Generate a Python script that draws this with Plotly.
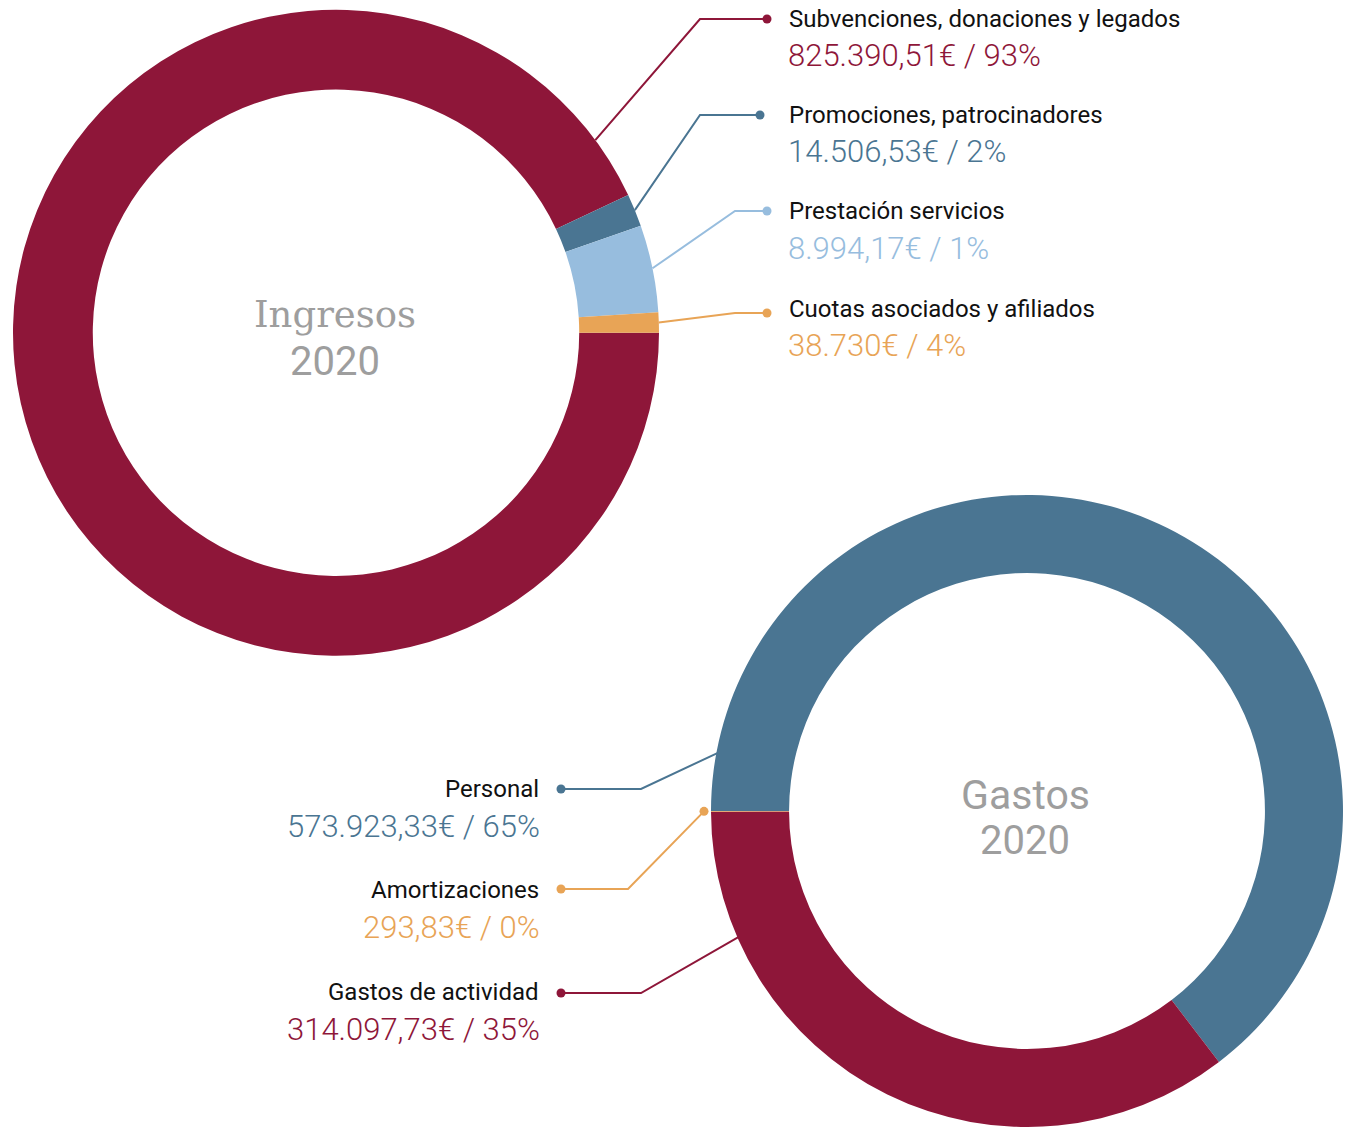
import math
import plotly.graph_objects as go

# ---------------- data ----------------
ingresos_labels = ["Subvenciones, donaciones y legados", "Promociones, patrocinadores",
                   "Prestación servicios", "Cuotas asociados y afiliados"]
ingresos_values = [825390.51, 14506.53, 8994.17, 38730.00]
ingresos_colors = ["#8E1639", "#4A7592", "#97BDDE", "#E8A456"]
# order in which the ring is drawn (clockwise from 3 o'clock) and the colour of each drawn slice
ingresos_ring_order = [0, 1, 3, 2]
ingresos_ring_colors = ["#8E1639", "#4A7592", "#97BDDE", "#E8A456"]

gastos_labels = ["Personal", "Amortizaciones", "Gastos de actividad"]
gastos_values = [573923.33, 293.83, 314097.73]
gastos_colors = ["#4A7592", "#E8A456", "#8E1639"]
gastos_ring_order = [0, 2, 1]   # clockwise from 9 o'clock

center_titles = [("Ingresos", "2020"), ("Gastos", "2020")]

# ---------------- layout constants ----------------
W, H = 1346, 1127
TOP_C, TOP_R = (336, 332.7), 323
BOT_C, BOT_R = (1027, 811), 316
HOLE = 0.753
GRAY = "#9E9E9E"
LABEL_FONT = dict(family="Roboto", size=24, color="#111111")
VALUE_DY = 37


def fmt_eur(v):
    if abs(v - round(v)) < 1e-9:
        s = f"{int(round(v)):,}".replace(",", ".")
    else:
        s = f"{v:,.2f}".replace(",", "X").replace(".", ",").replace("X", ".")
    return s + "€"


def px(x):
    return x / W


def py(y):
    return 1 - y / H


def polar(c, r, ang_deg):
    a = math.radians(ang_deg)
    return c[0] + r * math.cos(a), c[1] - r * math.sin(a)


def domain(c, r):
    cy_b = H - c[1]
    return dict(x=[max(0, (c[0] - r) / W), min(1, (c[0] + r) / W)],
                y=[max(0, (cy_b - r) / H), min(1, (cy_b + r) / H)])


fig = go.Figure()

fig.add_trace(go.Pie(
    values=[ingresos_values[i] for i in ingresos_ring_order],
    labels=[ingresos_labels[i] for i in ingresos_ring_order],
    marker=dict(colors=ingresos_ring_colors, line=dict(width=0)),
    hole=HOLE, sort=False, direction="clockwise", rotation=90,
    textinfo="none", hoverinfo="label+value", showlegend=False,
    domain=domain(TOP_C, TOP_R),
))

fig.add_trace(go.Pie(
    values=[gastos_values[i] for i in gastos_ring_order],
    labels=[gastos_labels[i] for i in gastos_ring_order],
    marker=dict(colors=[gastos_colors[i] for i in gastos_ring_order], line=dict(width=0)),
    hole=HOLE, sort=False, direction="clockwise", rotation=270,
    textinfo="none", hoverinfo="label+value", showlegend=False,
    domain=domain(BOT_C, BOT_R),
))

# slice mid angles (ccw from +x) for the top ring, by drawn position
tot_i = sum(ingresos_values)
ring_vals = [ingresos_values[i] for i in ingresos_ring_order]
pos_mid = []
acc = 0.0
for v in ring_vals:
    start = acc
    acc += v / tot_i * 360
    pos_mid.append(-((start + acc) / 2) % 360)
# each label points at the drawn slice of its own colour
mid_ang = [pos_mid[ingresos_ring_colors.index(c)] for c in ingresos_colors]
mid_ang[0] = 36.6

shapes = []
annotations = []

# top labels
top_elbow_x = [700, 700, 735, 735]
top_dot_x = [767, 760, 767, 767]
top_dot_y = [19, 115, 211, 313]
top_label_y = [19, 115, 211, 309]
for i, lab in enumerate(ingresos_labels):
    col = ingresos_colors[i]
    sx, sy = polar(TOP_C, TOP_R, mid_ang[i])
    ey = top_dot_y[i]
    path = f"M {px(sx)} {py(sy)} L {px(top_elbow_x[i])} {py(ey)} L {px(top_dot_x[i])} {py(ey)}"
    shapes.append(dict(type="path", xref="paper", yref="paper", path=path,
                       line=dict(color=col, width=2)))
    shapes.append(dict(type="circle", xref="paper", yref="paper",
                       x0=px(top_dot_x[i] - 4.5), x1=px(top_dot_x[i] + 4.5),
                       y0=py(ey + 4.5), y1=py(ey - 4.5),
                       fillcolor=col, line=dict(width=0)))
    pct = round(ingresos_values[i] / tot_i * 100)
    annotations.append(dict(x=px(787), y=py(top_label_y[i]), xref="paper", yref="paper",
                            xanchor="left", yanchor="middle", showarrow=False, text=lab,
                            font=LABEL_FONT))
    annotations.append(dict(x=px(786), y=py(top_label_y[i] + VALUE_DY), xref="paper", yref="paper",
                            xanchor="left", yanchor="middle", showarrow=False,
                            text=f"{fmt_eur(ingresos_values[i])} / {pct}%",
                            font=dict(family="Roboto", size=31, color=col, weight=300)))

# bottom labels
tot_g = sum(gastos_values)
amort_mid = 180 + (gastos_values[1] / tot_g * 360) / 2
bot_angles = [169.4, amort_mid, 203.6]
bot_radius = [BOT_R - 1, BOT_R + 7, BOT_R - 1]
bot_elbow_x = [641, 628, 641]
bot_dot_y = [789, 889, 993]
bot_label_y = [789, 890, 992]
for i, lab in enumerate(gastos_labels):
    col = gastos_colors[i]
    sx, sy = polar(BOT_C, bot_radius[i], bot_angles[i])
    path = f"M {px(sx)} {py(sy)} L {px(bot_elbow_x[i])} {py(bot_dot_y[i])} L {px(561)} {py(bot_dot_y[i])}"
    shapes.append(dict(type="path", xref="paper", yref="paper", path=path,
                       line=dict(color=col, width=2)))
    dots = [(561, bot_dot_y[i])]
    if i == 1:
        dots.append((sx, sy))
    for dx_, dy_ in dots:
        shapes.append(dict(type="circle", xref="paper", yref="paper",
                           x0=px(dx_ - 4.5), x1=px(dx_ + 4.5),
                           y0=py(dy_ + 4.5), y1=py(dy_ - 4.5),
                           fillcolor=col, line=dict(width=0)))
    pct = round(gastos_values[i] / tot_g * 100)
    annotations.append(dict(x=px(541), y=py(bot_label_y[i]), xref="paper", yref="paper",
                            xanchor="right", yanchor="middle", showarrow=False, text=lab,
                            font=LABEL_FONT))
    annotations.append(dict(x=px(542), y=py(bot_label_y[i] + VALUE_DY), xref="paper", yref="paper",
                            xanchor="right", yanchor="middle", showarrow=False,
                            text=f"{fmt_eur(gastos_values[i])} / {pct}%",
                            font=dict(family="Roboto", size=31, color=col, weight=300)))

# centre titles
title_specs = [
    (center_titles[0][0], 335, 314.5, "DejaVu Serif", 37),
    (center_titles[0][1], 335, 361.5, "Roboto", 40),
    (center_titles[1][0], 1025, 795, "Roboto", 41),
    (center_titles[1][1], 1025, 840.5, "Roboto", 40),
]
for txt, x, y, fam, size in title_specs:
    annotations.append(dict(x=px(x), y=py(y), xref="paper", yref="paper", showarrow=False,
                            xanchor="center", yanchor="middle", text=txt,
                            font=dict(family=fam, size=size, color=GRAY)))

fig.update_layout(width=W, height=H, margin=dict(l=0, r=0, t=0, b=0),
                  paper_bgcolor="white", plot_bgcolor="white",
                  shapes=shapes, annotations=annotations, showlegend=False)

fig.write_html("out.html", config={"displayModeBar": False, "responsive": False},
               post_script="document.body.style.margin='0';document.body.style.overflow='hidden';")
